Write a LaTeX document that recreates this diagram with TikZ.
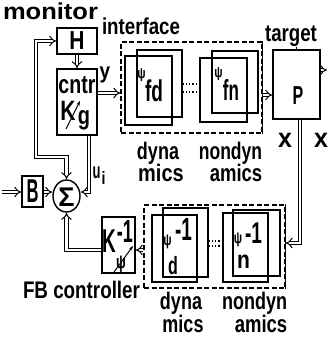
\documentclass[tikz,border=0pt]{standalone}
\usepackage{fontspec}
\setmainfont{Liberation Sans}
\usepackage{graphicx}
\usetikzlibrary{arrows.meta,shapes.geometric,calc}
\newcommand\T[3]{\scalebox{#1}[#2]{\bfseries #3}}
\begin{document}
\begin{tikzpicture}[x=1pt,y=-1pt,
  box/.style={draw, line width=1.4pt, inner sep=0pt},
  dbl/.style={double, double distance=2.6pt, line width=1pt},
  dashbox/.style={draw, dashed, dash pattern=on 5pt off 2.5pt, line width=1.1pt, inner sep=0pt},
  dotline/.style={dotted, line width=1.2pt},
  lbl/.style={inner sep=0pt, anchor=base},
  ctr/.style={inner sep=0pt}]
\useasboundingbox (0,0) rectangle (327,342);
% blocks
\node[box, minimum width=40pt, minimum height=26pt] (H) at (77,41) {\T{2.1}{2.6}{H}};
\node[box, minimum width=40pt, minimum height=66pt] (cntr) at (77,102) {};
\node[dashbox, minimum width=141pt, minimum height=91pt] (iface) at (191.5,87.5) {};
\draw[line width=1.1pt] (iface.north east) -- (iface.south east);
\node[box, minimum width=47pt, minimum height=69pt] (fdA) at (148.5,90.5) {};
\node[box, minimum width=45pt, minimum height=67pt] (fdB) at (159.5,83.5) {};
\node[box, minimum width=47pt, minimum height=64pt] (fnA) at (223.5,90) {};
\node[box, minimum width=46pt, minimum height=62pt] (fnB) at (235,82) {};
\node[box, minimum width=47pt, minimum height=69pt] (P) at (296.5,84.5) {};
\node[draw, ellipse, line width=1.4pt, minimum width=27pt, minimum height=32pt, inner sep=0pt] (S) at (66.5,196) {};
\node[box, minimum width=21pt, minimum height=31pt] (B) at (32.5,191.5) {\T{1.66}{3.3}{B}};
\node[box, minimum width=33pt, minimum height=56pt] (Ki) at (118.5,245) {};
\node[dashbox, minimum width=141pt, minimum height=83pt] (bifc) at (214.5,246.5) {};
\draw[line width=1.1pt] (bifc.north east) -- (bifc.south east);
\node[box, minimum width=45pt, minimum height=67pt] (dA) at (174.5,248.5) {};
\node[box, minimum width=45pt, minimum height=69pt] (dB) at (185.5,242.5) {};
\node[box, minimum width=45pt, minimum height=69pt] (nA) at (245.5,247.5) {};
\node[box, minimum width=47pt, minimum height=66pt] (nB) at (256.5,243) {};
% texts
\node[lbl] (tmon) at (50.5,20) {\T{2.55}{2.3}{monitor}};
\node[lbl] (tint) at (141,35) {\T{1.87}{2.3}{interface}};
\node[lbl] (ttgt) at (291,42) {\T{1.87}{2.4}{target}};
\node[lbl] (ty) at (105,79) {\T{1.9}{2.2}{y}};
\node[lbl] (tcntr) at (77,93) {\T{1.96}{2.6}{cntr}};
\node[lbl] (tK) at (68,121) {\T{2.1}{2.8}{K}};
\node[lbl] (tg) at (84,124) {\T{2.0}{2.6}{g}};
\node[lbl] (tP) at (298,105) {\T{1.6}{2.6}{P}};
\node[lbl] (tx1) at (285,147) {\T{2.5}{2.7}{x}};
\node[lbl] (tx2) at (321,147) {\T{2.5}{2.7}{x}};
\node[lbl] (tu) at (96.5,178) {\T{1.3}{2.2}{u}};
\node[lbl] (ti) at (103.5,184) {\T{1.4}{1.8}{i}};
\node[ctr] (tS) at (66.5,197.5) {\T{2.7}{2.7}{Σ}};
\node[lbl] (tFB) at (81.5,298) {\T{1.88}{2.4}{FB controller}};
\node[ctr] (tpsi1) at (141.5,75) {\T{1.1}{1.5}{ψ}};
\node[lbl] (tfd) at (154,102) {\T{1.9}{3.0}{fd}};
\node[ctr] (tpsi2) at (218.5,74) {\T{1.1}{1.5}{ψ}};
\node[lbl] (tfn) at (231,100) {\T{1.7}{2.9}{fn}};
\node[ctr] (tpsi3) at (167.5,242) {\T{1.1}{1.6}{ψ}};
\node[lbl] (tm1a) at (183.5,240) {\T{1.9}{3.2}{-1}};
\node[lbl] (td) at (173,274) {\T{1.6}{2.5}{d}};
\node[ctr] (tpsi4) at (238,240) {\T{1.1}{1.6}{ψ}};
\node[lbl] (tm1b) at (253.5,243) {\T{1.9}{3.0}{-1}};
\node[lbl] (tn) at (243.5,268) {\T{2.1}{2.5}{n}};
\node[lbl] (tKi) at (109,252) {\T{1.9}{3.3}{K}};
\node[lbl] (tm1c) at (125,242) {\T{1.8}{3.2}{-1}};
\node[ctr] (tpsi5) at (121,264) {\T{1.3}{1.9}{ψ}};
\node[lbl] (tdyn1) at (158,159) {\T{1.8}{2.4}{dyna}};
\node[lbl] (tmic1) at (161,181) {\T{2.0}{2.4}{mics}};
\node[lbl] (tnd1) at (230.5,159) {\T{1.75}{2.4}{nondyn}};
\node[lbl] (tam1) at (236,181) {\T{1.85}{2.4}{amics}};
\node[lbl] (tdyn2) at (181,309) {\T{1.8}{2.4}{dyna}};
\node[lbl] (tmic2) at (183,332) {\T{1.8}{2.4}{mics}};
\node[lbl] (tnd2) at (254.5,309) {\T{1.8}{2.4}{nondyn}};
\node[lbl] (tam2) at (261,332) {\T{1.85}{2.4}{amics}};
% variable-gain arrows
\coordinate (kg1) at (66,129); \coordinate (kg2) at (80,101);
\draw[line width=1pt,-{Stealth[length=4.5pt]}] (kg1) -- (kg2);
\coordinate (kp1) at (114,272); \coordinate (kp2) at (133,246);
\draw[line width=1pt,-{Stealth[length=4.5pt]}] (kp1) -- (kp2);
% coordinates
\coordinate (yrow) at (0,93);
\coordinate (prow) at (0,95);
\coordinate (LT) at (36,41);
\coordinate (LB) at (36,157);
\coordinate (LS) at (66.5,157);
\coordinate (ui) at (89,192);
\coordinate (fbc) at (300,243);
\coordinate (krow) at (0,250);
\coordinate (sc) at (66.5,250);
\coordinate (inB) at (2,192);
\coordinate (Pout) at (327,70);
\coordinate (d1) at (0,84); \coordinate (d2) at (0,92);
\coordinate (e1) at (0,241); \coordinate (e2) at (0,246);
% connectors
\draw[dbl,{Implies}-{Implies}] (H.west) -- (LT) -- (LB) -- (LS) -- (S.north);
\draw[dbl,-{Implies}] (H.south) -- (cntr.north);
\draw[dbl,-{Implies}] (cntr.east |- yrow) -- (iface.west |- yrow);
\draw[dbl,-{Implies}] (iface.east |- prow) -- (P.west |- prow);
\draw[dbl,-{Implies}] (P.south -| fbc) -- (fbc) -- (bifc.east |- fbc);
\draw[dbl,-{Implies}] (bifc.west |- krow) -- (Ki.east |- krow);
\draw[dbl,-{Implies}] (Ki.west |- krow) -- (sc) -- (S.south);
\draw[dbl,-{Implies}] (cntr.south -| ui) -- (ui) -- (S.east |- ui);
\draw[dbl,-{Implies}] (inB) -- (B.west |- inB);
\draw[dbl,-{Implies}] (B.east |- inB) -- (S.west |- inB);
\draw[dbl,-{Implies}] (P.east |- Pout) -- (Pout);
\draw[dotline] (fdB.east |- d1) -- (fnA.west |- d1);
\draw[dotline] (fdB.east |- d2) -- (fnA.west |- d2);
\draw[dotline] (dB.east |- e1) -- (nA.west |- e1);
\draw[dotline] (dB.east |- e2) -- (nA.west |- e2);
\draw[line width=1.1pt] (P.north) -- (P.north |- ttgt.south);
\end{tikzpicture}
\end{document}
